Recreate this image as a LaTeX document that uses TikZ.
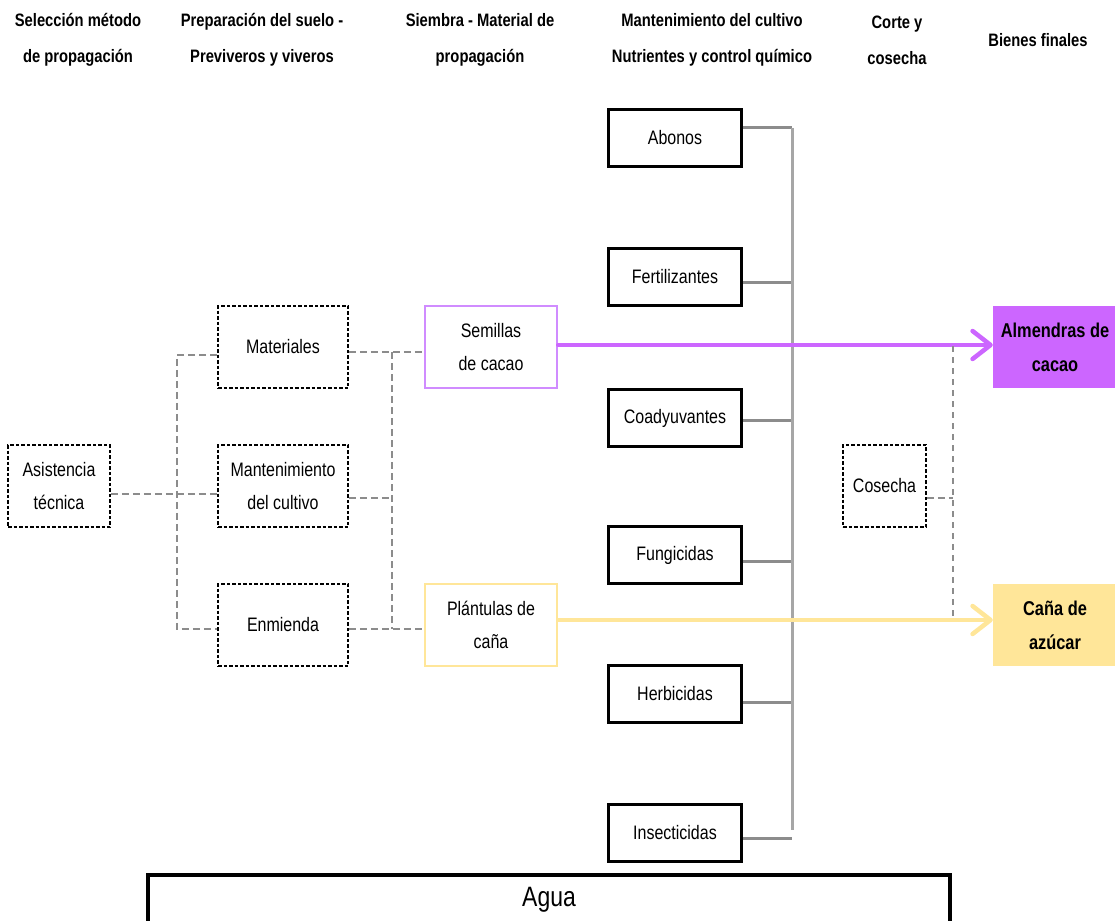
\documentclass[tikz,border=0pt]{standalone}
\usepackage{fontspec}
\setmainfont{Liberation Sans}[FakeStretch=0.82]
\usetikzlibrary{arrows.meta}

\definecolor{cacao}{HTML}{CC66FF}
\definecolor{cacaoborde}{HTML}{D08CFF}
\definecolor{cana}{HTML}{FFE699}
\definecolor{linea}{HTML}{8C8C8C}
\definecolor{eje}{HTML}{A6A6A6}

\tikzset{
  titulo/.style={align=center, font=\bfseries\fontsize{18}{36}\selectfont},
  etapa/.style={draw, line width=1.8pt, dash pattern=on 3.5pt off 2pt,
    minimum width=130pt, minimum height=82pt, align=center,
    font=\fontsize{19.5}{33}\selectfont},
  siembra/.style={draw, line width=2.5pt, minimum width=132pt, minimum height=82pt,
    align=center, font=\fontsize{19.5}{33}\selectfont},
  insumo/.style={draw, line width=3.5pt, minimum width=133pt, minimum height=57pt,
    font=\fontsize{19.5}{33}\selectfont},
  bien/.style={minimum width=124pt, minimum height=82pt, align=center,
    font=\bfseries\fontsize{20}{34}\selectfont},
  enlace/.style={draw=linea, line width=2.8pt, dash pattern=on 7pt off 4pt},
  rama/.style={draw=linea, line width=3pt},
  flujo/.style={line width=4.5pt, line cap=round,
    -{Straight Barb[length=18pt,width=28pt,round]}}
}

\begin{document}
\begin{tikzpicture}[x=1pt,y=-1pt]
  \useasboundingbox (0,0) rectangle (1115,920);

  % encabezados
  \node[titulo] (h1) at (78,40) {Selección método\\de propagación};
  \node[titulo] (h2) at (262,40) {Preparación del suelo -\\Previveros y viveros};
  \node[titulo] (h3) at (480,40) {Siembra - Material de\\propagación};
  \node[titulo] (h4) at (712,40) {Mantenimiento del cultivo\\Nutrientes y control químico};
  \node[titulo] (h5) at (897,40) {Corte y\\cosecha};
  \node[titulo] (h6) at (1038,40) {Bienes finales};

  % etapas
  \node[etapa, minimum width=102pt] (asis) at (59,486) {Asistencia\\técnica};
  \node[etapa] (mat) at (283,347) {Materiales};
  \node[etapa] (mant) at (283,486) {Mantenimiento\\del cultivo};
  \node[etapa] (enm) at (283,625) {Enmienda};
  \node[siembra, draw=cacaoborde] (sem) at (491,347) {Semillas\\de cacao};
  \node[siembra, draw=cana] (pla) at (491,625) {Plántulas de\\caña};
  \node[etapa, minimum width=83pt] (cos) at (884.5,486) {Cosecha};

  % insumos
  \node[insumo] (abo) at (675,138) {Abonos};
  \node[insumo] (fer) at (675,277) {Fertilizantes};
  \node[insumo] (coa) at (675,418) {Coadyuvantes};
  \node[insumo] (fun) at (675,555) {Fungicidas};
  \node[insumo] (her) at (675,694) {Herbicidas};
  \node[insumo] (ins) at (675,833) {Insecticidas};

  % bienes finales
  \node[bien, fill=cacao] (alm) at (1055,347) {Almendras de\\cacao};
  \node[bien, fill=cana] (azu) at (1055,625) {Caña de\\azúcar};

  \node[draw, line width=3.5pt, minimum width=802pt, minimum height=50pt,
    font=\fontsize{28}{34}\selectfont] (agua) at (549,900) {Agua};

  % conexiones punteadas
  \coordinate (izq1) at (177,355);
  \coordinate (izq2) at (177,629);
  \coordinate (der1) at (392,352);
  \coordinate (der2) at (392,629);
  \coordinate (der3) at (392,498);
  \draw[enlace] ([yshift=-8pt]asis.east) -- ([yshift=-8pt]mant.west);
  \draw[enlace] ([yshift=-8pt]mat.west) -- (izq1) -- (izq2) -- ([yshift=-4pt]enm.west);
  \draw[enlace] ([yshift=-5pt]mat.east) -- ([yshift=-5pt]sem.west);
  \draw[enlace] (der1) -- (der2);
  \draw[enlace] ([yshift=-12pt]mant.east) -- (der3);
  \draw[enlace] ([yshift=-4pt]enm.east) -- ([yshift=-4pt]pla.west);

  % insumos al eje
  \coordinate (eje1) at (792,128);
  \coordinate (eje2) at (792,830);
  \foreach \n/\d in {abo/10,fer/-5,coa/-2,fun/-6,her/-8,ins/-5}{
    \path ([yshift=\d pt]\n.east) coordinate (\n-r);
    \draw[rama] (\n-r) -- (\n-r -| eje1);
  }
  \draw[eje, line width=3pt] (eje1) -- (eje2);

  % flujos
  \draw[flujo, cacao] ([yshift=2pt]sem.east) -- ([yshift=2pt]alm.west);
  \draw[flujo, cana] ([yshift=5pt]pla.east) -- ([yshift=5pt]azu.west);

  % cosecha
  \coordinate (cos1) at (953,346);
  \coordinate (cos2) at (953,617);
  \coordinate (cos3) at (953,498);
  \draw[enlace, line width=2.2pt, dash pattern=on 6pt off 5pt] (cos1) -- (cos2);
  \draw[enlace] ([yshift=-12pt]cos.east) -- (cos3);
\end{tikzpicture}
\end{document}
